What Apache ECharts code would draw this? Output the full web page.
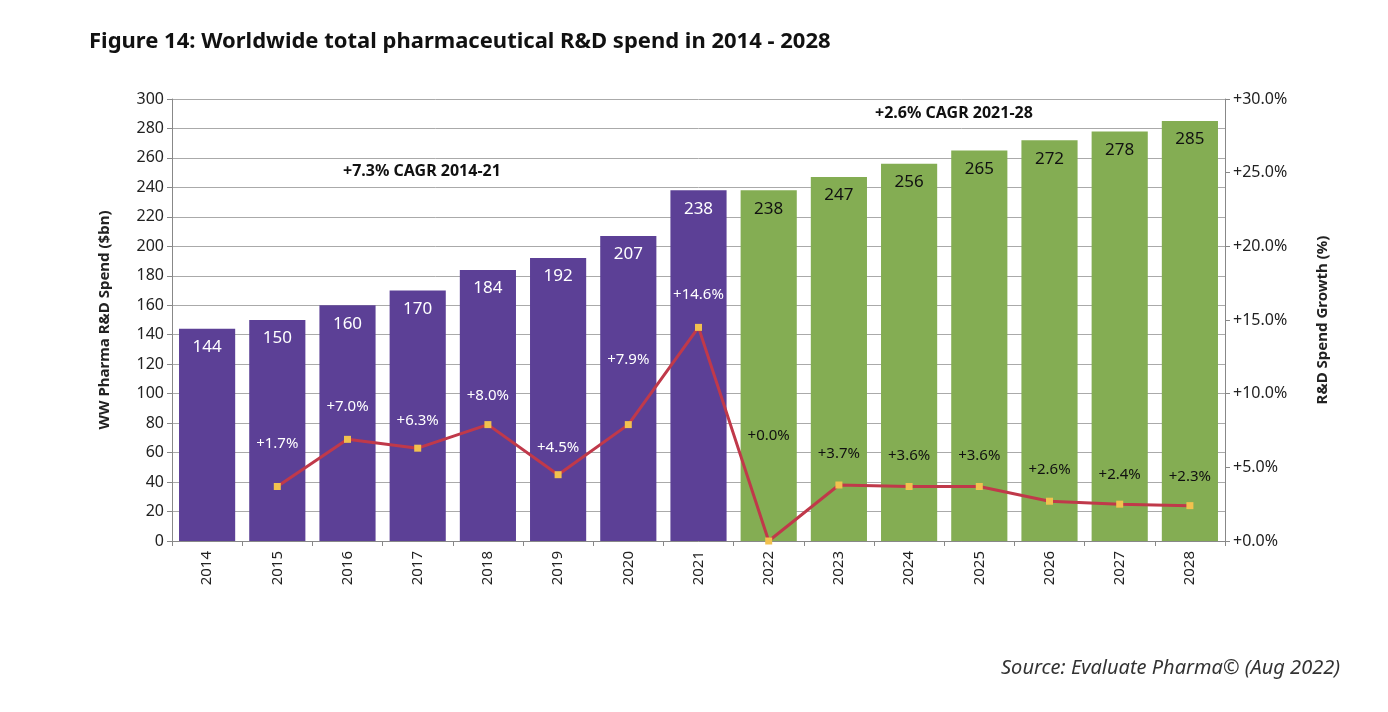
<!DOCTYPE html>
<html>
<head>
<meta charset="utf-8">
<script src="https://cdn.jsdelivr.net/npm/echarts@6/dist/echarts.min.js"></script>
</head>
<body style="margin:0;background:#fff">
<div id="chart" style="width:1388px;height:712px"></div>
<script>
var years = ['2014','2015','2016','2017','2018','2019','2020','2021','2022','2023','2024','2025','2026','2027','2028'];
var spend = [144,150,160,170,184,192,207,238,238,247,256,265,272,278,285];
var growth = [null,3.7,6.9,6.3,7.9,4.5,7.9,14.5,0.0,3.8,3.7,3.7,2.7,2.5,2.4];
var growthLabels = ['','+1.7%','+7.0%','+6.3%','+8.0%','+4.5%','+7.9%','+14.6%','+0.0%','+3.7%','+3.6%','+3.6%','+2.6%','+2.4%','+2.3%'];
var labelLift = [0,32,22,16,18,16,54,22,94,20,20,20,20,18,18];
var forecastFrom = 8;

var chart = echarts.init(document.getElementById('chart'));
var font = 'Noto Sans';
chart.setOption({
  textStyle: {fontFamily: font},
  title: {text: 'Figure 14: Worldwide total pharmaceutical R&D spend in 2014 - 2028', left: 84, top: 26,
    textStyle: {fontSize: 22, fontWeight: 'bold', color: '#111'}},
  grid: {left: 172, right: 163, top: 99, bottom: 171},
  xAxis: {type: 'category', data: years,
    axisLine: {lineStyle: {color: '#888'}}, axisTick: {show: true, lineStyle: {color: '#888'}},
    axisLabel: {rotate: 90, fontSize: 15, color: '#222', margin: 10}},
  yAxis: [
    {type: 'value', min: 0, max: 300, interval: 20, name: 'WW Pharma R&D Spend ($bn)',
      nameLocation: 'middle', nameGap: 60, nameRotate: 90,
      nameTextStyle: {fontSize: 15, fontWeight: 'bold', color: '#222'},
      axisLabel: {fontSize: 16, color: '#222'},
      axisLine: {show: true, lineStyle: {color: '#888'}}, axisTick: {show: true},
      splitLine: {lineStyle: {color: '#aaa'}}},
    {type: 'value', min: 0, max: 30, interval: 5, name: 'R&D Spend Growth (%)',
      nameLocation: 'middle', nameGap: 90, nameRotate: 90,
      nameTextStyle: {fontSize: 15, fontWeight: 'bold', color: '#222'},
      axisLabel: {fontSize: 16, color: '#222', formatter: function (v) { return '+' + v.toFixed(1) + '%'; }},
      axisLine: {show: true, lineStyle: {color: '#888'}}, axisTick: {show: true},
      splitLine: {show: false}}
  ],
  series: [
    {type: 'bar', barCategoryGap: '20%',
      data: spend.map(function (v, i) {
        var f = i >= forecastFrom;
        return {value: v, itemStyle: {color: f ? '#84ad53' : '#5c4096'},
          label: {color: f ? '#111' : '#fff'}};
      }),
      label: {show: true, position: 'insideTop', fontSize: 17, distance: 10}},
    {type: 'line', yAxisIndex: 1, symbol: 'rect', symbolSize: 7,
      itemStyle: {color: '#f2c14e'}, lineStyle: {color: '#c0394a', width: 3},
      data: growth.map(function (v, i) {
        return {value: v, label: {show: i > 0, formatter: growthLabels[i], position: 'top',
          distance: labelLift[i], fontSize: 15, color: i >= forecastFrom ? '#111' : '#fff'}};
      })}
  ],
  graphic: [
    {type: 'text', left: 343, top: 163, style: {text: '+7.3% CAGR 2014-21', fontSize: 16, fontWeight: 'bold', fill: '#111', fontFamily: font}},
    {type: 'text', left: 875, top: 105, style: {text: '+2.6% CAGR 2021-28', fontSize: 16, fontWeight: 'bold', fill: '#111', fontFamily: font}},
    {type: 'text', right: 48, top: 658, style: {text: 'Source: Evaluate Pharma\u00a9 (Aug 2022)', fontSize: 20, fontStyle: 'italic', fill: '#333', fontFamily: font}}
  ]
});
</script>
</body>
</html>
